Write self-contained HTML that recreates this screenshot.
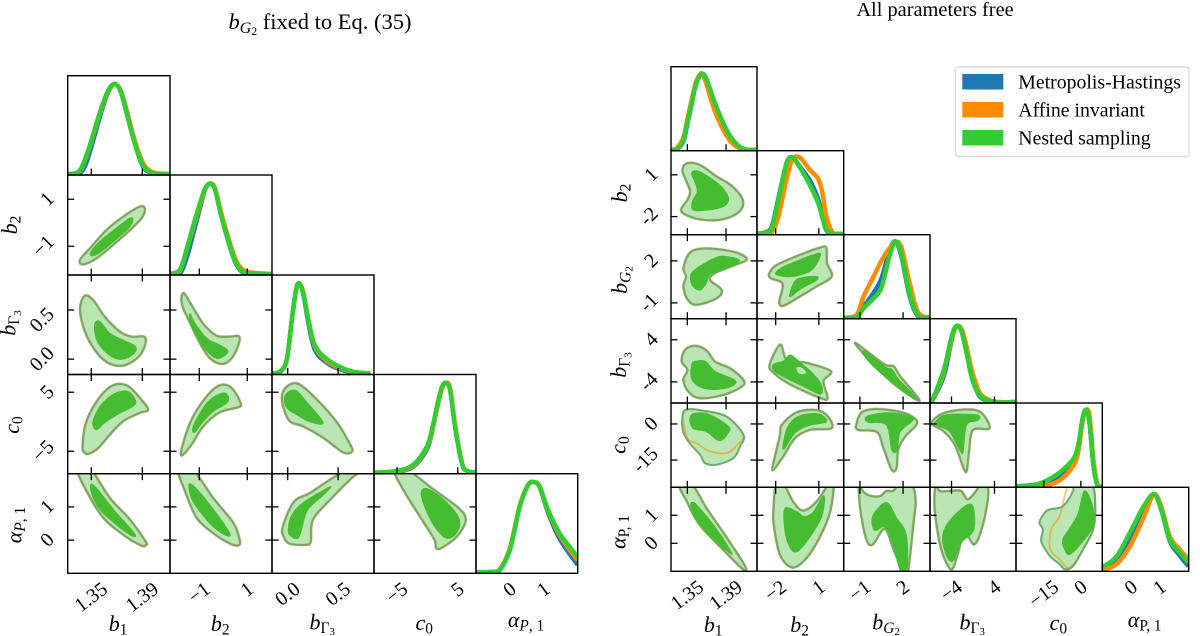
<!DOCTYPE html>
<html lang="en">
<head>
<meta charset="utf-8">
<title>Triangle plots of posterior constraints</title>
<style>
html,body{margin:0;padding:0;background:#fff;width:1200px;height:636px;overflow:hidden}
svg{display:block;font-family:"Liberation Serif",serif}
</style>
</head>
<body>
<svg id="chart" xmlns="http://www.w3.org/2000/svg" width="1200" height="636" viewBox="0 0 1200 636">
  <text x="320" y="29" text-anchor="middle" font-size="22.5" fill="#000"><tspan font-style="italic">b</tspan><tspan font-size="16" dy="4" font-style="italic">G</tspan><tspan font-size="11.5" dy="2">2</tspan><tspan dy="-6"> fixed to Eq. (35)</tspan></text>
  <text x="935" y="16" text-anchor="middle" font-size="20.4" fill="#000">All parameters free</text>
  <g id="plots"></g>
  <g>
    <rect x="955.5" y="67" width="233.5" height="89.5" rx="3" fill="#fff" stroke="#dcdcdc" stroke-width="1.4"/>
    <rect x="962.3" y="74" width="41" height="15.5" fill="#1f77b4"/>
    <text x="1018.3" y="88.5" font-size="19.8">Metropolis-Hastings</text>
    <rect x="962.3" y="102" width="41" height="15.5" fill="#ff8c00"/>
    <text x="1018.3" y="116.7" font-size="19.8">Affine invariant</text>
    <rect x="962.3" y="130" width="41" height="15.5" fill="#32cd32"/>
    <text x="1018.3" y="144.7" font-size="19.8">Nested sampling</text>
  </g>
</svg>
<script>
/* ---------- axis labels ---------- */
const labB1=[['b','i',0],['1','',1]];
const labB2=[['b','i',0],['2','',1]];
const labBG2=[['b','i',0],['G','i',1],['2','',2]];
const labBGam3=[['b','i',0],['Γ','',1],['3','',2]];
const labC0=[['c','i',0],['0','',1]];
const labAlphaI=[['α','i',0],['P','i',1],[', 1','',1]];
const labAlphaR=[['α','i',0],['P','',1],[', 1','',1]];

/* ---------- left triangle: axes ---------- */
const lDomB1=[1.3315,1.4117];
const lDomB2=[-2.22,2.03];
const lDomGam=[-0.156,0.856];
const lDomC0=[-8.8,8.0];
const lDomAl=[-1,2];
const lTicksB1=[1.35,1.39];
const lTicksB2=[-1,1];
const lTicksGam=[0,0.5];
const lTicksC0=[-5,5];
const lTicksAl=[0,1];
const lTickLabB1=['1.35','1.39'];
const lTickLabB2=['−1','1'];
const lTickLabGam=['0.0','0.5'];
const lTickLabC0=['−5','5'];
const lTickLabAl=['0','1'];

/* ---------- left triangle: 1D marginals ---------- */
const lGridB1=[1.3315,1.338,1.342,1.346,1.350,1.354,1.358,1.362,1.3655,1.369,1.373,1.377,1.381,1.385,1.389,1.393,1.400,1.4117];
const lB1NS=[0,.01,.06,.2,.37,.56,.74,.89,.98,1,.92,.72,.5,.3,.14,.05,.005,0];
const lB1MH=[0,0,.02,.12,.3,.5,.7,.87,.97,1,.92,.72,.5,.3,.13,.04,.003,0];
const lB1AI=[0,.01,.05,.19,.36,.55,.73,.88,.97,1,.93,.75,.53,.33,.17,.07,.012,0];
const lGridB2=[-2.22,-1.8,-1.5,-1.2,-.9,-.75,-.55,-.35,-.1,.2,.5,.8,1.2,2.03];
const lB2NS=[0,.05,.3,.58,.84,.95,1,.94,.66,.38,.14,.03,.005,0];
const lB2MH=[0,.01,.2,.5,.8,.94,1,.94,.66,.37,.13,.02,0,0];
const lB2AI=[0,.04,.29,.56,.82,.94,1,.95,.69,.41,.17,.05,.015,0];
const lGridGam=[-.156,-.077,-.01,.04,.083,.115,.155,.205,.27,.388,.52,.65,.82];
const lGamNS=[0,.02,.15,.59,.93,1,.89,.59,.31,.16,.07,.02,0];
const lGamMH=[0,.02,.15,.59,.93,1,.88,.56,.26,.12,.045,.01,0];
const lGamAI=[0,.02,.15,.59,.92,1,.9,.6,.3,.14,.06,.015,0];
const lGridC0=[-8.8,-5,-2.3,-.1,.71,1.54,2.36,3.02,3.74,4.56,5.66,6.48,8];
const lC0NS=[0,.02,.09,.29,.47,.73,.95,1,.92,.51,.11,.02,0];
const lC0MH=[0,.01,.07,.26,.44,.71,.94,1,.92,.51,.11,.02,0];
const lC0AI=[0,.015,.08,.28,.45,.7,.93,1,.94,.53,.12,.02,0];
const lGridAl=[-1,-.49,-.29,0,.29,.54,.72,.88,1.13,1.47,2];
const lAlNS=[0,.005,.03,.25,.73,.97,1,.95,.69,.43,.17];
const lAlMH=[0,.005,.03,.25,.73,.97,1,.94,.66,.37,.08];
const lAlAI=[0,.005,.035,.27,.74,.97,1,.94,.68,.41,.13];

/* ---------- left triangle: contours (x param, y param) ---------- */
const lB2B1Outer=[[1.3411,-1.58],[1.349,-1.08],[1.362,-.30],[1.375,.26],[1.388,.69],[1.392,.59],[1.3894,.19],[1.379,-.38],[1.3672,-.94],[1.3542,-1.51],[1.3437,-1.77]];
const lB2B1Inner=[[1.3495,-1.27],[1.3568,-.80],[1.3698,-.23],[1.3803,.19],[1.3824,.09],[1.379,-.23],[1.3672,-.80],[1.3568,-1.25],[1.351,-1.40]];
const lGamB1Outer=[[1.3411,.51],[1.345,.645],[1.3516,.60],[1.3607,.43],[1.3725,.28],[1.3816,.23],[1.3913,.23],[1.3926,.16],[1.3882,.04],[1.3803,-.04],[1.3725,-.07],[1.362,-.03],[1.3529,.09],[1.345,.28]];
const lGamB1Inner=[[1.3529,.36],[1.3568,.38],[1.3646,.26],[1.3751,.19],[1.3835,.14],[1.385,.09],[1.3803,.03],[1.3725,0],[1.3646,.04],[1.3568,.14],[1.3534,.24]];
const lGamB2Outer=[[-1.74,.63],[-1.63,.67],[-1.32,.55],[-.83,.36],[-.28,.24],[.28,.23],[.67,.23],[.58,.11],[.28,-.01],[-.07,-.05],[-.56,.01],[-.97,.16],[-1.39,.37],[-1.69,.53]];
const lGamB2Inner=[[-1.39,.46],[-1.18,.36],[-.69,.21],[-.14,.14],[.17,.09],[.07,.04],[-.28,.01],[-.69,.09],[-1.11,.24],[-1.36,.38]];
const lC0B1Outer=[[1.3432,-3.87],[1.345,-.76],[1.3503,2.06],[1.3594,4.89],[1.3685,6.30],[1.379,6.02],[1.3881,4.04],[1.3946,2.06],[1.3881,1.5],[1.375,.08],[1.3646,-2.18],[1.3555,-4.44],[1.3477,-5.45],[1.3437,-5]];
const lC0B1Inner=[[1.3513,-.48],[1.3529,.93],[1.3581,2.91],[1.3685,4.77],[1.379,5.06],[1.3847,3.47],[1.3816,2.51],[1.3699,1.21],[1.3594,-.31],[1.3542,-1.33]];
const lC0B2Outer=[[-1.74,-5.73],[-1.69,-3.87],[-1.32,.37],[-.69,4.32],[-.14,6.19],[.35,5.73],[.72,3.2],[.63,2.46],[-.14,1.61],[-.83,-.76],[-1.32,-3.87]];
const lC0B2Inner=[[-1.28,-1.33],[-1.11,.37],[-.63,3.36],[-.07,4.77],[.18,4.44],[.14,3.19],[-.42,1.78],[-.9,-.2],[-1.18,-1.72]];
const lC0GamOuter=[[-.05,4.95],[.02,6.3],[.12,6.3],[.29,3.76],[.49,-.14],[.62,-3.86],[.64,-5.05],[.55,-5.2],[.35,-2.7],[.15,-.76],[.02,.08],[-.05,2.9]];
const lC0GamInner=[[-.03,4.1],[.02,5.17],[.09,5.17],[.19,3.25],[.35,-.14],[.22,.03],[.09,1.22],[-.01,2.4]];
const lAlB1Outer=[[1.339,2.13],[1.3495,2.13],[1.3646,1.27],[1.3803,.62],[1.3926,-.04],[1.3928,-.14],[1.3894,-.17],[1.375,.16],[1.3594,.67],[1.3463,1.47]];
const lAlB1Inner=[[1.3495,1.66],[1.3542,1.55],[1.3672,.92],[1.3835,.21],[1.3816,.14],[1.3699,.46],[1.3581,.87],[1.3516,1.27]];
const lAlB2Outer=[[-1.88,2.13],[-1.28,2.13],[-.42,1.27],[.42,.52],[.69,-.01],[.63,-.16],[.28,-.11],[-.42,.21],[-1.11,.67],[-1.6,1.48]];
const lAlB2Inner=[[-1.42,1.68],[-1.11,1.53],[-.42,.92],[.24,.23],[.14,.14],[-.42,.41],[-.97,.87],[-1.32,1.27]];
const lAlGamOuter=[[-.05,.4],[.06,1.15],[.22,1.42],[.45,1.88],[.59,2.09],[.73,2.09],[.64,1.88],[.42,1.21],[.25,.61],[.23,-.02],[.19,-.14],[.02,-.11],[-.04,.1]];
const lAlGamInner=[[.01,.4],[.04,.73],[.14,1.09],[.42,1.6],[.34,1.33],[.19,.88],[.11,.1],[.02,.16]];
const lAlC0Outer=[[-5.6,2.13],[-3.41,2.13],[.99,1.53],[5.11,.97],[6.32,.62],[5.11,.16],[3.19,-.14],[1.54,-.27],[1.15,.01],[-.93,.62],[-3.68,1.42]];
const lAlC0Inner=[[-.99,1.42],[.16,1.53],[3.19,1.12],[5.22,.62],[4.73,.21],[3.19,.06],[1.54,.33],[-.11,.87]];

/* ---------- right triangle: axes ---------- */
const rDomB1=[1.3331,1.4220];
const rDomB2=[-3.3,2.73];
const rDomG2=[-2.13,3.87];
const rDomGam=[-8,8];
const rDomC0=[-26.3,8.7];
const rDomAl=[-1,2];
const rTicksB1=[1.35,1.39];
const rTicksB2=[-2,1];
const rTicksG2=[-1,2];
const rTicksGam=[-4,4];
const rTicksC0=[-15,0];
const rTicksAl=[0,1];
const rTickLabB1=['1.35','1.39'];
const rTickLabB2=['−2','1'];
const rTickLabG2=['−1','2'];
const rTickLabGam=['−4','4'];
const rTickLabC0=['−15','0'];
const rTickLabAl=['0','1'];
const rYLabB2=['-2','1'];
const rYLabG2=['-1','2'];
const rYLabGam=['-4','4'];
const rYLabC0=['-15','0'];

/* ---------- right triangle: 1D marginals ---------- */
const rGridB1=[1.3331,1.339,1.3459,1.35,1.3545,1.358,1.3614,1.3655,1.37,1.3786,1.389,1.3976,1.408,1.422];
const rB1NS=[0,.005,.12,.36,.61,.82,.94,1,.92,.61,.3,.12,.01,0];
const rB1MH=[0,.005,.11,.34,.6,.82,.94,1,.92,.6,.29,.11,.01,0];
const rB1AI=[0,.02,.16,.4,.66,.85,.96,1,.85,.5,.22,.07,.005,0];
const rGridB2=[-3.3,-2.74,-2.28,-1.82,-1.24,-.82,-.31,.38,.96,1.26,1.53,2,2.72];
const rB2NS=[0,.01,.07,.44,.93,1,.87,.64,.4,.2,.05,0,0];
const rB2MH=[0,.015,.09,.46,.93,1,.88,.7,.45,.22,.04,0,0];
const rB2AI=[0,0,.015,.22,.72,.98,1,.84,.72,.53,.22,.01,0];
const rGridG2=[-2.13,-1.23,-.77,-.08,.5,1.08,1.49,1.89,2.46,3.04,3.87];
const rG2NS=[0,.01,.12,.25,.4,.83,1,.83,.31,.03,0];
const rG2MH=[0,.01,.14,.32,.52,.9,1,.8,.28,.02,0];
const rG2AI=[0,.035,.27,.53,.75,.92,1,.92,.45,.07,0];
const rGridGam=[-8,-7.7,-5.85,-5.05,-4.31,-3.57,-2.84,-2.1,-1.36,-.25,.68,1.6,4,8];
const rGamNS=[0,.005,.33,.52,.76,.95,1,.92,.7,.33,.16,.06,0,0];
const rGamMH=[0,.002,.26,.44,.7,.92,1,.92,.7,.33,.15,.05,0,0];
const rGamAI=[0,.005,.3,.5,.72,.93,1,.95,.78,.42,.22,.09,.005,0];
const rGridC0=[-26.2,-19.4,-13.9,-8.45,-3,-.95,.83,2.2,3.55,5.2,6.83,8.7];
const rC0NS=[0,.01,.075,.185,.36,.56,.91,1,.82,.25,.01,0];
const rC0MH=[0,.015,.06,.14,.3,.5,.9,1,.82,.25,.01,0];
const rC0AI=[0,0,.015,.08,.27,.47,.87,1,.92,.32,.02,0];
const rGridAl=[-1,-.51,-.05,.42,.79,1.06,1.35,1.7,2];
const rAlNS=[.04,.18,.49,.83,1,.79,.4,.23,.1];
const rAlMH=[.02,.14,.42,.78,1,.78,.38,.19,.05];
const rAlAI=[0,.08,.31,.68,1,.82,.44,.27,.15];

/* ---------- right triangle: contours ---------- */
const rB2B1Outer=[[1.3448,1.36],[1.35,1.84],[1.3631,1.7],[1.3804,.88],[1.3959,.21],[1.4073,-.8],[1.4038,-1.64],[1.3873,-2.19],[1.3666,-2.24],[1.35,-1.93],[1.3434,-1.52],[1.35,-.8],[1.3528,-.2],[1.3486,.59]];
const rB2B1Inner=[[1.3545,1.12],[1.3614,1.24],[1.3786,.52],[1.389,-.2],[1.3924,-.8],[1.3866,-1.28],[1.37,-1.52],[1.3562,-1.52],[1.3555,-.92],[1.3604,-.2],[1.3579,.52]];
const rG2B1Outer=[[1.3459,1.48],[1.3521,2.55],[1.3648,2.88],[1.3873,2.79],[1.4045,2.5],[1.4114,2.07],[1.3993,1.71],[1.3786,1.12],[1.3735,.64],[1.3855,-.07],[1.3804,-.67],[1.3597,-1.14],[1.35,-.74],[1.3459,.17],[1.3486,.88]];
const rG2B1Inner=[[1.3545,1.12],[1.3631,1.6],[1.3786,2.19],[1.389,2.31],[1.4038,2.02],[1.3907,1.48],[1.3735,1.07],[1.3693,.4],[1.3631,-.07],[1.3562,.17],[1.3535,.64]];
const rG2B2Outer=[[-2.44,1.12],[-1.93,1.71],[-.32,2.43],[1.18,2.98],[1.53,2.9],[1.58,1.83],[1.9,.88],[.84,.17],[-.32,-.55],[-1.47,-1.21],[-1.75,-.9],[-1.52,.36],[-2.35,.76]];
const rG2B2InnerA=[[-1.93,1.24],[-1.24,1.67],[.84,2.5],[1.07,2.31],[.61,1.48],[.03,1.12],[-1.01,.88],[-1.88,1]];
const rG2B2InnerB=[[-1.01,-.38],[-.55,.64],[.72,.88],[.84,.64],[-.32,-.02],[-.89,-.5]];
const rGamB1Outer=[[1.3441,-.13],[1.3476,2.1],[1.3579,2.86],[1.37,1.96],[1.3786,-.13],[1.3942,-1.4],[1.408,-3.62],[1.4062,-4.9],[1.3873,-6.48],[1.3631,-7.1],[1.351,-5.85],[1.3459,-3.62],[1.35,-1.71]];
const rGamB1Inner=[[1.3548,-.76],[1.3579,-.13],[1.3683,-.13],[1.3786,-2.04],[1.3993,-3.75],[1.3942,-4.9],[1.3769,-5.39],[1.3631,-4.9],[1.3545,-3.3]];
const rGamB2Outer=[[-2.42,-.7],[-1.68,3.1],[-1.22,.25],[.17,-.38],[1.84,-1.96],[1.33,-3.87],[1.61,-7.05],[1.1,-7.05],[-.98,-4.5],[-2.14,-2.29]];
const rGamB2Inner=[[-2.19,-.83],[-1.45,-.06],[-.98,1.08],[-.29,-.38],[.52,-2.29],[1.15,-4.5],[1.1,-6.29],[-.06,-4.83],[-1.91,-2.29]];
const rGamB2Hole=[[-.57,-1.33],[-.17,-1.33],[.13,-2.29],[-.33,-2.48]];
const rGamG2Outer=[[-1.33,3.43],[.65,-.57],[1.34,-1.02],[1.8,-2.92],[3.15,-7.55],[1.57,-4.83],[-.28,-.06]];
const rGamG2Inner=[[-.74,1.85],[.76,-1.21],[1.22,-1.65],[1.69,-3.56],[2.96,-7.24],[1.57,-4.83],[-.28,-.38]];
const rC0B1Outer=[[1.3452,3.72],[1.35,6.06],[1.3666,5.51],[1.3907,3.03],[1.408,-4.55],[1.4045,-9.37],[1.3976,-14.2],[1.3804,-16.9],[1.3683,-16.3],[1.3631,-12.8],[1.351,-7.3],[1.3452,-2.48]];
const rC0B1Inner=[[1.3528,2.34],[1.3579,4.41],[1.3735,3.72],[1.3924,-1.1],[1.3918,-3.86],[1.3831,-6.89],[1.37,-3.17],[1.3562,-1.79]];
const rC0B1OuterAI=[[1.3452,3.72],[1.35,6.06],[1.3666,5.51],[1.3907,3.03],[1.408,-4.55],[1.4015,-8.7],[1.3907,-12.1],[1.3735,-11.4],[1.3597,-8],[1.35,-5.9]];
const rC0B2Outer=[[-2.23,-19.3],[-2,-12.1],[-1.7,-4.55],[-1.58,-.41],[-.55,4.82],[.84,5.79],[1.65,3.03],[1.88,-1.79],[.38,-2.48],[-.66,-5.92],[-1.47,-13.5]];
const rC0B2Inner=[[-1.47,-10.5],[-1.19,-1.79],[-.43,3.03],[.95,4.13],[1.53,.96],[.38,-.41],[-.66,-3.58]];
const rC0G2Outer=[[-1.23,.41],[-1.14,-2.48],[.16,-3.3],[.6,-9.5],[1.2,-19],[1.55,-18.2],[1.66,-10.7],[2.13,-5.37],[2.96,0],[2.68,2.89],[1.78,5.08],[.18,6.2],[-.86,4.96]];
const rC0G2Inner=[[-.44,3.31],[-.44,.83],[.85,-.41],[1.22,-10.7],[1.57,-10.7],[1.78,-3.3],[2.68,1.65],[2.33,3.31],[1.08,4.55]];
const rC0GamOuter=[[-7.7,.28],[-5.55,4.41],[-1.23,6.06],[1.55,4.68],[3.08,-1.79],[.03,-2.48],[-.7,-10.7],[-1.15,-19.4],[-1.77,-18.3],[-3.39,-8.68],[-5.55,-2.89]];
const rC0GamInner=[[-6.9,.96],[-4.92,3.72],[.62,3.72],[.93,1.65],[-1.23,-.41],[-1.85,-11.2],[-2.34,-11.2],[-4.31,-3.17],[-6.77,-.41]];
const rAlB1Outer=[[1.3417,2.08],[1.3552,2.08],[1.37,1.25],[1.3924,.12],[1.41,-.83],[1.4073,-.92],[1.3924,-.42],[1.3631,.65],[1.3486,1.55]];
const rAlB1Inner=[[1.3545,1.45],[1.3604,1.33],[1.3804,.48],[1.3949,-.3],[1.3924,-.3],[1.37,.36],[1.3579,.89],[1.3541,1.25]];
const rAlB2Outer=[[-1.98,2.14],[-1.47,2.14],[-.78,1.49],[-.08,1.17],[.84,1.49],[1.72,2.14],[2.04,2.14],[1.76,1.07],[.84,0],[-.08,-.65],[-.89,-.86],[-1.7,-.42],[-2.12,.6],[-2.16,1.19]];
const rAlB2Inner=[[-1.33,1.25],[-.55,1.13],[-.04,.95],[.61,1.1],[1.35,1.69],[1.18,.95],[.38,.24],[-.55,-.3],[-1.12,0],[-1.4,.71]];
const rAlG2Outer=[[-1.07,2.11],[-.98,1.21],[-.56,.14],[-.1,-.04],[.72,.52],[1.29,-.16],[1.99,-1.03],[2.33,-1.03],[2.73,.74],[2.87,1.57],[2.56,2.11],[1.76,2.11],[1.29,1.87],[.83,1.87],[.41,1.69],[-.22,1.69],[-.74,1.83]];
const rAlG2Inner=[[-.1,.97],[.83,1.45],[1.52,.91],[2.22,.26],[2.24,-1.1],[1.85,-1.05],[1.29,.02],[.72,.59],[.02,.47]];
const rAlGamOuter=[[-6.96,2.11],[-7.14,1.21],[-5.92,-.21],[-4.07,-.93],[-2.84,-.39],[-1.6,.38],[.25,-.04],[1.79,.62],[2.84,1.69],[2.53,2.11],[1.47,2.11],[.55,1.87],[-.99,1.57],[-2.22,1.87],[-4.37,1.87],[-6.22,1.87]];
const rAlGamInner=[[-5.61,.26],[-4.07,.86],[-.38,1.39],[.12,.5],[-2.22,.02],[-3.76,-.63],[-5,-.39]];
const rAlC0Outer=[[-3.15,1.87],[-7.24,1.33],[-12.7,1.21],[-14.7,1.09],[-16.8,.74],[-15.4,.5],[-16.1,.08],[-14,-.28],[-12,-.51],[-8.6,-.75],[-6.5,-.93],[-3.1,-.81],[.94,-.21],[5,.5],[5.85,1.33],[4.33,2.11],[-3.15,2.11]];
const rAlC0Inner=[[-7.24,.14],[-4.5,.52],[-1.1,1.04],[1.63,1.87],[5,1.21],[5,.62],[.24,.02],[-4.5,-.39],[-6.54,-.21]];
const rAlC0OuterAI=[[-4.5,2.11],[-8.6,.97],[-12,.5],[-12.4,-.21],[-8.6,-.57],[-4.5,-.87],[.94,-.21],[5,.5],[5.85,1.33],[4.33,2.11]];

/* ---------- assembling the two triangles ---------- */
const leftParams=[
 {name:'b1',label:labB1,domain:lDomB1,ticks:lTicksB1,tickLabels:lTickLabB1,yLabels:lTickLabB1},
 {name:'b2',label:labB2,domain:lDomB2,ticks:lTicksB2,tickLabels:lTickLabB2,yLabels:lTickLabB2},
 {name:'b-gamma3',label:labBGam3,domain:lDomGam,ticks:lTicksGam,tickLabels:lTickLabGam,yLabels:lTickLabGam},
 {name:'c0',label:labC0,domain:lDomC0,ticks:lTicksC0,tickLabels:lTickLabC0,yLabels:lTickLabC0},
 {name:'alpha-p1',label:labAlphaI,domain:lDomAl,ticks:lTicksAl,tickLabels:lTickLabAl,yLabels:lTickLabAl}
];
const rightParams=[
 {name:'b1',label:labB1,domain:rDomB1,ticks:rTicksB1,tickLabels:rTickLabB1,yLabels:rTickLabB1},
 {name:'b2',label:labB2,domain:rDomB2,ticks:rTicksB2,tickLabels:rTickLabB2,yLabels:rYLabB2},
 {name:'b-g2',label:labBG2,domain:rDomG2,ticks:rTicksG2,tickLabels:rTickLabG2,yLabels:rYLabG2},
 {name:'b-gamma3',label:labBGam3,domain:rDomGam,ticks:rTicksGam,tickLabels:rTickLabGam,yLabels:rYLabGam},
 {name:'c0',label:labC0,domain:rDomC0,ticks:rTicksC0,tickLabels:rTickLabC0,yLabels:rYLabC0},
 {name:'alpha-p1',label:labAlphaR,domain:rDomAl,ticks:rTicksAl,tickLabels:rTickLabAl,yLabels:rTickLabAl}
];
const leftDiag=[
 [lGridB1,lB1MH,lB1AI,lB1NS],[lGridB2,lB2MH,lB2AI,lB2NS],[lGridGam,lGamMH,lGamAI,lGamNS],[lGridC0,lC0MH,lC0AI,lC0NS],[lGridAl,lAlMH,lAlAI,lAlNS]
];
const rightDiag=[
 [rGridB1,rB1MH,rB1AI,rB1NS],[rGridB2,rB2MH,rB2AI,rB2NS],[rGridG2,rG2MH,rG2AI,rG2NS],[rGridGam,rGamMH,rGamAI,rGamNS],[rGridC0,rC0MH,rC0AI,rC0NS],[rGridAl,rAlMH,rAlAI,rAlNS]
];
const leftContours=[
 {r:1,c:0,outer:lB2B1Outer,inner:[lB2B1Inner]},
 {r:2,c:0,outer:lGamB1Outer,inner:[lGamB1Inner]},
 {r:2,c:1,outer:lGamB2Outer,inner:[lGamB2Inner]},
 {r:3,c:0,outer:lC0B1Outer,inner:[lC0B1Inner]},
 {r:3,c:1,outer:lC0B2Outer,inner:[lC0B2Inner]},
 {r:3,c:2,outer:lC0GamOuter,inner:[lC0GamInner]},
 {r:4,c:0,outer:lAlB1Outer,inner:[lAlB1Inner]},
 {r:4,c:1,outer:lAlB2Outer,inner:[lAlB2Inner]},
 {r:4,c:2,outer:lAlGamOuter,inner:[lAlGamInner]},
 {r:4,c:3,outer:lAlC0Outer,inner:[lAlC0Inner]}
];
const rightContours=[
 {r:1,c:0,outer:rB2B1Outer,inner:[rB2B1Inner]},
 {r:2,c:0,outer:rG2B1Outer,inner:[rG2B1Inner]},
 {r:2,c:1,outer:rG2B2Outer,inner:[rG2B2InnerA,rG2B2InnerB]},
 {r:3,c:0,outer:rGamB1Outer,inner:[rGamB1Inner]},
 {r:3,c:1,outer:rGamB2Outer,inner:[rGamB2Inner],hole:rGamB2Hole},
 {r:3,c:2,outer:rGamG2Outer,inner:[rGamG2Inner]},
 {r:4,c:0,outer:rC0B1Outer,inner:[rC0B1Inner],outerAI:rC0B1OuterAI},
 {r:4,c:1,outer:rC0B2Outer,inner:[rC0B2Inner]},
 {r:4,c:2,outer:rC0G2Outer,inner:[rC0G2Inner]},
 {r:4,c:3,outer:rC0GamOuter,inner:[rC0GamInner]},
 {r:5,c:0,outer:rAlB1Outer,inner:[rAlB1Inner]},
 {r:5,c:1,outer:rAlB2Outer,inner:[rAlB2Inner]},
 {r:5,c:2,outer:rAlG2Outer,inner:[rAlG2Inner]},
 {r:5,c:3,outer:rAlGamOuter,inner:[rAlGamInner]},
 {r:5,c:4,outer:rAlC0Outer,inner:[rAlC0Inner],outerAI:rAlC0OuterAI}
];

/* ---------- layout ---------- */
const leftLayout={id:'left',xs:[67.7,170,272,374,476,577.7],ys:[75.7,175,275,374.5,473.7,573.3],xLabelY:[631,631,629.5,630,627],yLabelX:[0,17,15.5,19,21.5],yLabelC:[0,225,323,425,525],tickFont:20,xLabelTop:581,yRight:56};
const rightLayout={id:'right',xs:[671,757,843.7,930,1016,1102.3,1188.7],ys:[66.7,150.7,234.7,318.7,403,487.3,571.3],xLabelY:[632,632,629.5,629.5,630,627],yLabelX:[0,627,627,626,625.5,625.5],yLabelC:[0,193,280,365,445,532],tickFont:20,xLabelTop:579,yRight:660};
const seriesColors=['#1f77b4','#ff8c00','#32cd32'];
const seriesNames=['metropolis-hastings','affine-invariant','nested-sampling'];

const SVGNS='http://www.w3.org/2000/svg';
const root=document.getElementById('plots');
function svgEl(tag,parent){const e=document.createElementNS(SVGNS,tag);parent.appendChild(e);return e;}
function scale(dom,a,b){return v=>a+(v-dom[0])/(dom[1]-dom[0])*(b-a);}
function closedPath(pts){
  const n=pts.length;let d='M'+pts[0][0].toFixed(2)+' '+pts[0][1].toFixed(2);
  for(let i=0;i<n;i++){
    const p0=pts[(i-1+n)%n],p1=pts[i],p2=pts[(i+1)%n],p3=pts[(i+2)%n];
    d+='C'+(p1[0]+(p2[0]-p0[0])/6).toFixed(2)+' '+(p1[1]+(p2[1]-p0[1])/6).toFixed(2)+' '+(p2[0]-(p3[0]-p1[0])/6).toFixed(2)+' '+(p2[1]-(p3[1]-p1[1])/6).toFixed(2)+' '+p2[0].toFixed(2)+' '+p2[1].toFixed(2);
  }
  return d+'Z';
}
function openPath(pts){
  const n=pts.length;let d='M'+pts[0][0].toFixed(2)+' '+pts[0][1].toFixed(2);
  for(let i=0;i<n-1;i++){
    const p0=pts[Math.max(i-1,0)],p1=pts[i],p2=pts[i+1],p3=pts[Math.min(i+2,n-1)];
    d+='C'+(p1[0]+(p2[0]-p0[0])/6).toFixed(2)+' '+(p1[1]+(p2[1]-p0[1])/6).toFixed(2)+' '+(p2[0]-(p3[0]-p1[0])/6).toFixed(2)+' '+(p2[1]-(p3[1]-p1[1])/6).toFixed(2)+' '+p2[0].toFixed(2)+' '+p2[1].toFixed(2);
  }
  return d;
}
function addMathLabel(t,parts,size){
  let prev=0;
  parts.forEach(p=>{
    const s=svgEl('tspan',t);
    s.textContent=p[0];
    if(p[1]==='i')s.setAttribute('font-style','italic');
    const lvl=p[2];
    s.setAttribute('font-size',(lvl===0?size:lvl===1?size*.7:size*.5).toFixed(1));
    const off=v=>v===0?0:v===1?size*.16:size*.24;
    const dy=off(lvl)-off(prev);
    if(dy!==0)s.setAttribute('dy',dy.toFixed(1));
    prev=lvl;
  });
}
function tick(g,x1,y1,x2,y2,name){
  const l=svgEl('line',g);
  l.setAttribute('x1',x1.toFixed(2));l.setAttribute('y1',y1.toFixed(2));
  l.setAttribute('x2',x2.toFixed(2));l.setAttribute('y2',y2.toFixed(2));
  l.setAttribute('stroke','#000');l.setAttribute('stroke-width','1.3');
  
  
}

function drawTriangle(params,diag,contours,L){
  const n=params.length;
  const TL=6.5;
  const group=svgEl('g',root);
  
  
  const xScale=params.map((p,i)=>scale(p.domain,L.xs[i],L.xs[i+1]));
  const yScale=params.map((p,i)=>scale(p.domain,L.ys[i+1],L.ys[i]));
  function panelGroup(r,c,kind){
    const g=svgEl('g',group);
    
    
    const clip=svgEl('clipPath',g);
    clip.setAttribute('id','clip-'+L.id+'-'+r+'-'+c);
    const cr=svgEl('rect',clip);
    cr.setAttribute('x',L.xs[c]);cr.setAttribute('y',L.ys[r]);
    cr.setAttribute('width',L.xs[c+1]-L.xs[c]);cr.setAttribute('height',L.ys[r+1]-L.ys[r]);
    const marks=svgEl('g',g);
    marks.setAttribute('clip-path','url(#clip-'+L.id+'-'+r+'-'+c+')');
    
    
    return {g,marks};
  }
  function frame(g,r,c){
    const f=svgEl('rect',g);
    f.setAttribute('x',L.xs[c]);f.setAttribute('y',L.ys[r]);
    f.setAttribute('width',L.xs[c+1]-L.xs[c]);f.setAttribute('height',L.ys[r+1]-L.ys[r]);
    f.setAttribute('fill','none');f.setAttribute('stroke','#000');f.setAttribute('stroke-width','1.4');
    
    
  }
  /* diagonal marginals */
  diag.forEach((d,i)=>{
    const {g,marks}=panelGroup(i,i,'marginal');
    const bottom=L.ys[i+1],h=bottom-L.ys[i];
    [1,2,3].forEach((k,si)=>{
      const pts=d[0].map((v,j)=>[xScale[i](v),bottom-1-d[k][j]*h*0.905]);
      const line=svgEl('path',marks);
      line.setAttribute('d',openPath(pts));
      line.setAttribute('fill','none');
      line.setAttribute('stroke',seriesColors[si]);
      line.setAttribute('stroke-width','4.5');
      line.setAttribute('stroke-linejoin','round');
      
      
    });
    frame(g,i,i);
    if(i<n-1){
      params[i].ticks.forEach(t=>{tick(g,xScale[i](t),bottom,xScale[i](t),bottom-TL,'x-tick');});
    }
  });
  /* 2D contours */
  contours.forEach(ct=>{
    const r=ct.r,c=ct.c;
    const {g,marks}=panelGroup(r,c,'contour');
    const toPx=a=>a.map(p=>[xScale[c](p[0]),yScale[r](p[1])]);
    const outerD=closedPath(toPx(ct.outer));
    const fill=svgEl('path',marks);
    fill.setAttribute('d',outerD);
    fill.setAttribute('fill','#b9e6b2');
    
    
    const aiD=ct.outerAI?closedPath(toPx(ct.outerAI)):outerD;
    const ai=svgEl('path',marks);
    ai.setAttribute('d',aiD);
    ai.setAttribute('fill','none');
    ai.setAttribute('stroke','#ff8c00');
    ai.setAttribute('stroke-opacity',ct.outerAI?'.55':'.32');
    ai.setAttribute('stroke-width',ct.outerAI?'1.8':'3');
    
    
    const mh=svgEl('path',marks);
    mh.setAttribute('d',outerD);
    mh.setAttribute('fill','none');
    mh.setAttribute('stroke','#1f77b4');
    mh.setAttribute('stroke-opacity','.4');
    mh.setAttribute('stroke-width','2.2');
    
    
    const ns=svgEl('path',marks);
    ns.setAttribute('d',outerD);
    ns.setAttribute('fill','none');
    ns.setAttribute('stroke','#6ca85a');
    ns.setAttribute('stroke-opacity','.85');
    ns.setAttribute('stroke-width','1.7');
    
    
    ct.inner.forEach(inn=>{
      const ip=svgEl('path',marks);
      ip.setAttribute('d',closedPath(toPx(inn)));
      ip.setAttribute('fill','#46bc30');
      ip.setAttribute('stroke','#46bc30');
      ip.setAttribute('stroke-width','1.4');
      ip.setAttribute('stroke-linejoin','round');
      
      
    });
    if(ct.hole){
      const hp=svgEl('path',marks);
      hp.setAttribute('d',closedPath(toPx(ct.hole)));
      hp.setAttribute('fill','#b9e6b2');
      
      
    }
    frame(g,r,c);
    params[c].ticks.forEach(t=>{
      const x=xScale[c](t);
      if(r<n-1)tick(g,x,L.ys[r+1],x,L.ys[r+1]-TL,'x-tick');
      if(r>=c+2)tick(g,x,L.ys[r],x,L.ys[r]+TL,'x-tick');
    });
    params[r].ticks.forEach(t=>{
      const y=yScale[r](t);
      tick(g,L.xs[c],y,L.xs[c]+TL,y,'y-tick');
      tick(g,L.xs[c+1],y,L.xs[c+1]-TL,y,'y-tick');
    });
  });
  /* tick labels & axis titles */
  params.forEach((p,i)=>{
    p.ticks.forEach((t,j)=>{
      const tx=svgEl('text',group);
      tx.textContent=p.tickLabels[j];
      tx.setAttribute('font-size',L.tickFont);
      tx.setAttribute('text-anchor','middle');
      tx.setAttribute('dominant-baseline','central');
      
      
      const len=tx.getComputedTextLength();
      const bb=len*.602+L.tickFont*.72*.799;
      const x=xScale[i](t),y=L.xLabelTop+bb/2;
      tx.setAttribute('x',x.toFixed(2));tx.setAttribute('y',y.toFixed(2));
      tx.setAttribute('transform','rotate(-37 '+x.toFixed(2)+' '+y.toFixed(2)+')');
    });
    const xl=svgEl('text',group);
    addMathLabel(xl,p.label,22);
    xl.setAttribute('text-anchor','middle');
    xl.setAttribute('x',((L.xs[i]+L.xs[i+1])/2-.8).toFixed(2));
    xl.setAttribute('y',L.xLabelY[i]);
    
    
    if(i===0)return;
    p.ticks.forEach((t,j)=>{
      const tx=svgEl('text',group);
      tx.textContent=p.yLabels[j];
      tx.setAttribute('font-size',L.tickFont);
      tx.setAttribute('text-anchor','middle');
      tx.setAttribute('dominant-baseline','central');
      
      
      const len=tx.getComputedTextLength();
      const bb=(len+L.tickFont*.72)*.7071;
      const x=L.yRight-bb/2;
      const y=yScale[i](t)+(p.yLabels[j]==='0.5'?10:0);
      tx.setAttribute('x',x.toFixed(2));tx.setAttribute('y',y.toFixed(2));
      tx.setAttribute('transform','rotate(-45 '+x.toFixed(2)+' '+y.toFixed(2)+')');
    });
    const yl=svgEl('text',group);
    addMathLabel(yl,p.label,22);
    yl.setAttribute('text-anchor','middle');
    const cy=L.yLabelC[i],bx=L.yLabelX[i];
    yl.setAttribute('x',bx);
    yl.setAttribute('y',cy);
    yl.setAttribute('transform','rotate(-90 '+bx+' '+cy+')');
    
    
  });
}
drawTriangle(leftParams,leftDiag,leftContours,leftLayout);
drawTriangle(rightParams,rightDiag,rightContours,rightLayout);
</script>
</body>
</html>
